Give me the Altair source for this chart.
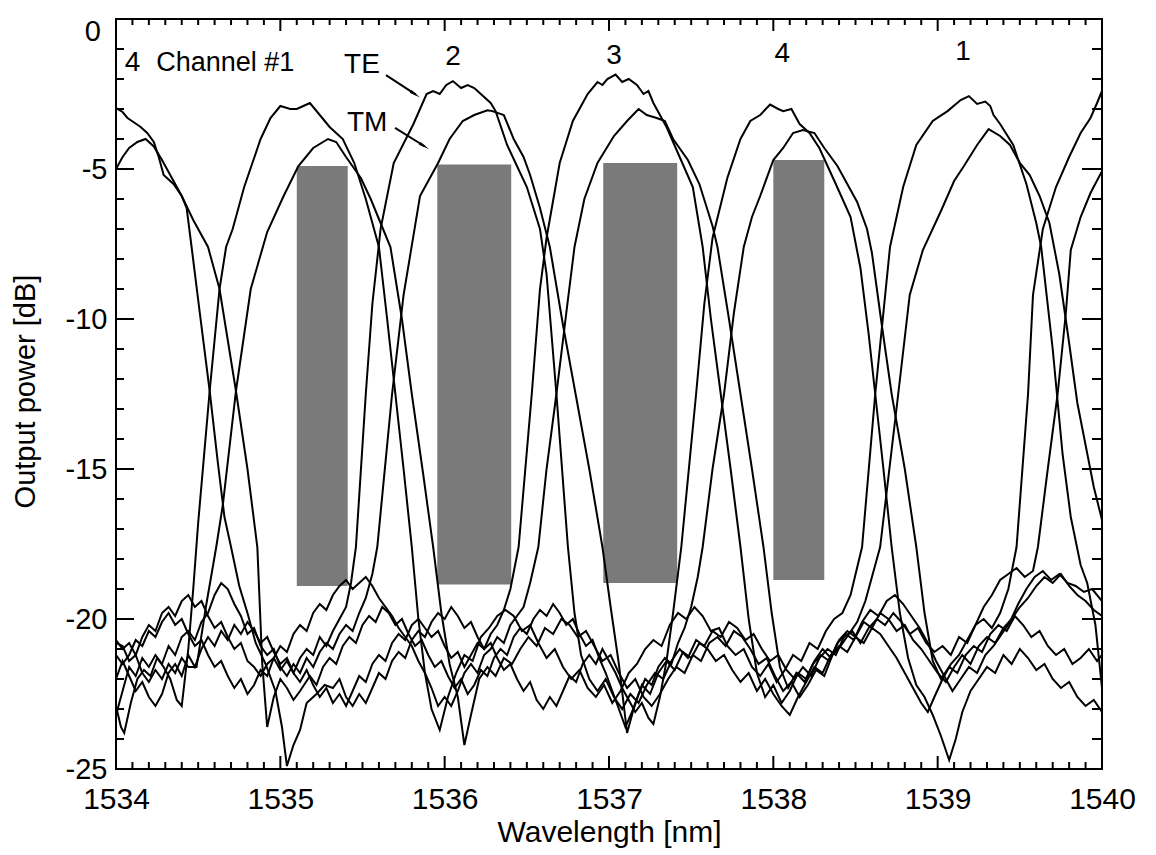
import altair as alt
import pandas as pd

# ---------------- data (wavelength nm, output power dB) ----------------
te1 = [(1534.00,-22.9),(1534.03,-23.6),(1534.05,-23.8),(1534.09,-22.8),(1534.13,-22.0),(1534.17,-21.7),(1534.21,-21.9),(1534.25,-21.3),(1534.29,-21.6),(1534.33,-22.0),(1534.37,-22.7),(1534.40,-22.9),(1534.44,-21.0),(1534.47,-19.0),(1534.50,-16.8),(1534.57,-12.4),(1534.63,-9.0),(1534.67,-7.6),(1534.71,-7.0),(1534.78,-5.6),(1534.83,-4.8),(1534.88,-4.0),(1534.94,-3.3),(1535.00,-2.9),(1535.06,-3.0),(1535.10,-3.0),(1535.14,-2.9),(1535.18,-2.8),(1535.24,-3.2),(1535.30,-3.6),(1535.38,-4.0),(1535.45,-4.8),(1535.52,-6.0),(1535.60,-7.6),(1535.65,-10.0),(1535.70,-12.5),(1535.75,-15.0),(1535.80,-17.6),(1535.84,-20.0),(1535.88,-21.8),(1535.92,-23.0),(1535.97,-23.7),
       (1536.02,-22.6),(1536.07,-21.8),(1536.12,-21.2),(1536.17,-21.4),(1536.22,-20.6),(1536.27,-20.3),(1536.32,-19.9),(1536.37,-19.7),(1536.42,-19.9),(1536.47,-20.4),(1536.52,-20.2),(1536.57,-20.8),(1536.62,-21.3),(1536.67,-21.0),(1536.72,-21.6),(1536.77,-22.0),(1536.82,-21.7),(1536.87,-22.3),(1536.92,-22.6),(1536.97,-22.2),(1537.02,-22.8),(1537.07,-22.4),(1537.12,-21.8),(1537.17,-21.5),(1537.22,-21.0),(1537.27,-20.7),(1537.32,-20.9),(1537.37,-20.2),(1537.42,-19.8),(1537.47,-20.0),(1537.52,-19.6),(1537.57,-19.9),(1537.62,-20.4),(1537.67,-20.3),(1537.72,-20.9),(1537.77,-21.2),(1537.82,-21.0),(1537.87,-21.6),(1537.92,-21.9),(1537.97,-21.5),(1538.02,-22.1),(1538.07,-21.7),(1538.12,-21.2),(1538.17,-21.4),(1538.22,-20.8),(1538.27,-21.0),(1538.32,-20.4),(1538.37,-20.0),(1538.42,-19.8),(1538.47,-19.2),
       (1538.54,-17.6),(1538.62,-12.5),(1538.71,-7.6),(1538.79,-5.6),(1538.87,-4.2),(1538.97,-3.4),(1539.06,-3.07),(1539.14,-2.7),(1539.19,-2.57),(1539.24,-2.83),(1539.29,-2.75),(1539.32,-2.9),(1539.34,-3.2),(1539.38,-3.5),(1539.46,-4.2),(1539.54,-5.5),(1539.60,-6.8),(1539.63,-7.6),(1539.70,-11.0),(1539.76,-14.5),(1539.81,-16.6),(1539.87,-18.2),(1539.91,-18.8),(1539.96,-20.2),(1540.00,-22.3)]

tm1 = [(1534.00,-20.8),(1534.04,-20.9),(1534.08,-21.4),(1534.12,-21.2),(1534.16,-21.8),(1534.20,-22.1),(1534.24,-21.7),(1534.28,-22.0),(1534.32,-21.5),(1534.36,-21.8),(1534.40,-21.3),(1534.44,-21.6),(1534.49,-21.6),(1534.55,-19.5),(1534.61,-17.6),(1534.65,-16.2),(1534.73,-12.4),(1534.82,-9.0),(1534.92,-7.1),(1535.02,-5.9),(1535.11,-4.9),(1535.20,-4.3),(1535.29,-4.0),(1535.34,-4.1),(1535.40,-4.6),(1535.49,-5.3),(1535.55,-6.0),(1535.61,-6.8),(1535.67,-7.6),(1535.74,-10.0),(1535.80,-12.5),(1535.87,-15.2),(1535.93,-17.6),(1535.98,-19.8),(1536.03,-21.5),(1536.08,-22.6),(1536.12,-24.2),(1536.16,-23.2),(1536.21,-22.0),(1536.26,-21.6),(1536.31,-21.9),(1536.36,-21.3),(1536.41,-21.5),(1536.46,-21.0),(1536.51,-20.6),(1536.56,-20.9),(1536.61,-20.3),(1536.66,-20.5),(1536.71,-20.0),(1536.76,-20.2),(1536.81,-20.6),(1536.86,-20.4),(1536.91,-20.9),(1536.96,-21.4),(1537.01,-21.2),(1537.06,-21.8),(1537.11,-22.3),(1537.16,-22.0),(1537.21,-22.6),(1537.26,-22.9),(1537.31,-22.5),(1537.36,-22.0),(1537.41,-21.6),(1537.46,-21.8),(1537.51,-21.2),(1537.56,-21.4),(1537.61,-20.8),(1537.66,-20.6),(1537.71,-20.9),(1537.76,-20.4),(1537.81,-20.6),(1537.86,-21.0),(1537.91,-21.5),(1537.96,-21.3),(1538.01,-21.9),(1538.06,-22.4),(1538.11,-22.1),(1538.16,-22.6),(1538.21,-22.2),(1538.26,-21.7),(1538.31,-21.9),(1538.36,-21.2),(1538.41,-20.9),(1538.46,-20.5),(1538.51,-20.1),(1538.56,-19.4),(1538.60,-18.6),(1538.65,-17.6),(1538.76,-12.5),(1538.83,-9.2),(1538.91,-7.7),(1539.02,-6.4),(1539.10,-5.4),(1539.16,-4.9),(1539.24,-4.2),(1539.31,-3.67),(1539.38,-3.9),(1539.44,-4.2),(1539.50,-4.8),(1539.56,-5.2),(1539.62,-5.9),(1539.68,-6.8),(1539.74,-8.5),(1539.80,-10.8),(1539.85,-12.8),(1539.90,-14.2),(1539.95,-15.6),(1540.00,-16.7)]

te2 = [(1534.00,-20.7),(1534.04,-21.0),(1534.08,-20.8),(1534.12,-21.2),(1534.16,-20.6),(1534.20,-20.2),(1534.24,-20.4),(1534.28,-19.8),(1534.32,-19.6),(1534.36,-19.9),(1534.40,-19.4),(1534.44,-19.2),(1534.48,-19.6),(1534.52,-19.4),(1534.56,-19.9),(1534.60,-20.3),(1534.64,-20.1),(1534.68,-20.6),(1534.72,-21.0),(1534.76,-20.8),(1534.80,-21.4),(1534.84,-21.6),(1534.88,-21.9),(1534.92,-21.5),(1534.96,-21.3),(1535.00,-21.7),(1535.04,-21.4),(1535.08,-21.8),(1535.12,-21.3),(1535.16,-21.0),(1535.20,-21.2),(1535.24,-20.6),(1535.28,-20.9),(1535.32,-20.4),(1535.36,-20.0),(1535.40,-19.6),(1535.43,-18.8),(1535.46,-17.6),(1535.52,-12.5),(1535.56,-9.5),(1535.61,-7.0),(1535.69,-4.8),(1535.81,-3.5),(1535.89,-2.5),(1535.93,-2.4),(1535.97,-2.5),(1536.01,-2.2),(1536.05,-2.07),(1536.10,-2.3),(1536.14,-2.2),(1536.18,-2.3),(1536.22,-2.5),(1536.28,-2.8),(1536.31,-3.07),(1536.38,-4.2),(1536.50,-5.6),(1536.58,-7.0),(1536.62,-8.5),(1536.68,-12.5),(1536.75,-17.6),(1536.79,-19.8),(1536.83,-21.2),(1536.88,-22.0),(1536.93,-22.4),(1536.98,-22.0),(1537.03,-22.6),(1537.08,-23.0),(1537.13,-22.5),(1537.18,-22.8),(1537.23,-22.2),(1537.28,-21.8),(1537.33,-22.0),(1537.38,-21.4),(1537.43,-21.0),(1537.48,-21.3),(1537.53,-20.7),(1537.58,-20.9),(1537.63,-20.4),(1537.68,-20.6),(1537.73,-20.1),(1537.78,-20.3),(1537.83,-20.7),(1537.88,-20.5),(1537.93,-21.0),(1537.98,-21.4),(1538.03,-21.2),(1538.08,-21.7),(1538.13,-22.0),(1538.18,-21.6),(1538.23,-21.9),(1538.28,-21.3),(1538.33,-21.0),(1538.38,-21.2),(1538.43,-20.6),(1538.48,-20.4),(1538.53,-20.8),(1538.58,-20.3),(1538.63,-20.0),(1538.68,-20.2),(1538.73,-19.8),(1538.78,-20.1),(1538.83,-20.5),(1538.88,-20.3),(1538.93,-20.8),(1538.98,-21.1),(1539.03,-20.9),(1539.08,-21.2),(1539.13,-20.6),(1539.18,-20.8),(1539.23,-20.2),(1539.28,-20.0),(1539.33,-20.3),(1539.38,-19.8),(1539.43,-19.0),(1539.48,-17.6),(1539.55,-12.5),(1539.58,-9.2),(1539.64,-7.0),(1539.72,-5.6),(1539.80,-4.6),(1539.87,-3.8),(1539.93,-3.3),(1539.97,-2.8),(1540.00,-2.4)]

tm2 = [(1534.00,-23.2),(1534.04,-22.4),(1534.08,-21.6),(1534.12,-21.9),(1534.16,-21.3),(1534.20,-21.6),(1534.24,-21.2),(1534.28,-21.5),(1534.32,-20.9),(1534.36,-21.2),(1534.40,-20.6),(1534.44,-20.4),(1534.48,-20.7),(1534.52,-20.1),(1534.56,-19.8),(1534.60,-19.2),(1534.64,-18.8),(1534.68,-19.0),(1534.72,-19.5),(1534.76,-19.9),(1534.80,-20.5),(1534.84,-20.3),(1534.88,-20.9),(1534.92,-21.2),(1534.96,-21.0),(1535.00,-21.6),(1535.04,-21.9),(1535.08,-21.5),(1535.12,-21.8),(1535.16,-21.3),(1535.20,-21.6),(1535.24,-21.1),(1535.28,-20.8),(1535.32,-21.0),(1535.36,-20.5),(1535.40,-20.2),(1535.44,-20.4),(1535.48,-19.8),(1535.52,-19.3),(1535.56,-18.5),(1535.59,-17.6),(1535.68,-12.5),(1535.75,-9.2),(1535.85,-5.9),(1535.96,-4.8),(1536.03,-4.0),(1536.11,-3.4),(1536.18,-3.2),(1536.26,-3.04),(1536.29,-3.07),(1536.36,-3.2),(1536.42,-4.0),(1536.48,-4.6),(1536.52,-5.2),(1536.58,-6.3),(1536.64,-7.6),(1536.72,-10.2),(1536.80,-12.6),(1536.88,-15.0),(1536.96,-17.6),(1537.01,-19.6),(1537.06,-21.5),(1537.11,-23.8),(1537.15,-23.0),(1537.20,-22.2),(1537.25,-22.5),(1537.30,-21.8),(1537.35,-21.4),(1537.40,-21.7),(1537.45,-21.1),(1537.50,-21.3),(1537.55,-20.8),(1537.60,-21.0),(1537.65,-21.4),(1537.70,-21.2),(1537.75,-21.7),(1537.80,-22.1),(1537.85,-21.8),(1537.90,-22.4),(1537.95,-22.0),(1538.00,-22.5),(1538.05,-22.9),(1538.10,-23.2),(1538.15,-22.6),(1538.20,-22.1),(1538.25,-21.6),(1538.30,-21.8),(1538.35,-21.2),(1538.40,-20.9),(1538.45,-21.1),(1538.50,-20.6),(1538.55,-20.8),(1538.60,-20.3),(1538.65,-20.5),(1538.70,-20.9),(1538.75,-21.3),(1538.80,-21.8),(1538.85,-22.3),(1538.90,-22.8),(1538.94,-23.1),(1538.98,-22.6),(1539.03,-22.0),(1539.08,-21.5),(1539.13,-21.2),(1539.18,-20.7),(1539.23,-20.2),(1539.28,-19.6),(1539.33,-19.2),(1539.38,-18.7),(1539.43,-18.5),(1539.48,-18.3),(1539.53,-18.6),(1539.58,-18.4),(1539.61,-17.6),(1539.67,-15.0),(1539.73,-12.5),(1539.78,-9.8),(1539.81,-7.7),(1539.87,-6.6),(1539.93,-5.8),(1540.00,-5.07)]

te3 = [(1534.00,-22.0),(1534.04,-21.4),(1534.08,-21.9),(1534.12,-22.4),(1534.16,-22.1),(1534.20,-22.6),(1534.24,-22.9),(1534.28,-22.5),(1534.32,-21.8),(1534.36,-21.5),(1534.40,-21.9),(1534.44,-21.2),(1534.48,-21.6),(1534.52,-21.0),(1534.56,-20.6),(1534.60,-20.9),(1534.64,-20.4),(1534.68,-20.7),(1534.72,-20.2),(1534.76,-20.5),(1534.80,-20.1),(1534.84,-20.4),(1534.88,-20.8),(1534.92,-20.6),(1534.96,-21.1),(1535.00,-21.5),(1535.04,-21.3),(1535.08,-21.8),(1535.12,-22.1),(1535.16,-21.7),(1535.20,-22.2),(1535.24,-22.6),(1535.28,-22.3),(1535.32,-22.8),(1535.36,-22.5),(1535.40,-22.9),(1535.44,-22.4),(1535.48,-21.9),(1535.52,-22.1),(1535.56,-21.5),(1535.60,-21.2),(1535.64,-21.4),(1535.68,-20.8),(1535.72,-20.5),(1535.76,-20.7),(1535.80,-20.2),(1535.84,-20.0),(1535.88,-20.3),(1535.92,-20.6),(1535.96,-20.4),(1536.00,-20.9),(1536.04,-21.3),(1536.08,-21.1),(1536.12,-21.6),(1536.16,-21.2),(1536.20,-20.8),(1536.24,-21.0),(1536.28,-20.5),(1536.32,-20.2),(1536.36,-19.7),(1536.40,-19.0),(1536.45,-17.6),(1536.53,-12.5),(1536.58,-9.0),(1536.62,-7.3),(1536.70,-4.8),(1536.78,-3.4),(1536.87,-2.5),(1536.93,-2.1),(1536.96,-2.2),(1536.99,-2.0),(1537.04,-1.85),(1537.08,-2.1),(1537.12,-2.0),(1537.17,-2.2),(1537.21,-2.5),(1537.24,-2.4),(1537.27,-2.8),(1537.35,-3.6),(1537.43,-4.6),(1537.51,-5.6),(1537.57,-7.6),(1537.62,-10.0),(1537.68,-12.5),(1537.74,-15.0),(1537.80,-17.6),(1537.85,-20.0),(1537.90,-21.8),(1537.95,-22.6),(1538.00,-22.2),(1538.05,-22.8),(1538.10,-22.4),(1538.15,-21.8),(1538.20,-22.0),(1538.25,-21.4),(1538.30,-21.0),(1538.35,-21.3),(1538.40,-20.7),(1538.45,-20.4),(1538.50,-20.6),(1538.55,-20.1),(1538.60,-20.3),(1538.65,-19.8),(1538.70,-20.0),(1538.75,-20.4),(1538.80,-20.2),(1538.85,-20.7),(1538.90,-21.0),(1538.95,-21.4),(1539.00,-21.8),(1539.05,-22.1),(1539.10,-21.6),(1539.15,-21.2),(1539.20,-21.5),(1539.25,-20.9),(1539.30,-20.6),(1539.35,-20.8),(1539.40,-20.3),(1539.45,-20.0),(1539.50,-19.6),(1539.55,-19.3),(1539.60,-18.9),(1539.65,-18.6),(1539.70,-18.8),(1539.75,-18.5),(1539.80,-18.9),(1539.85,-19.2),(1539.90,-19.4),(1539.95,-19.7),(1540.00,-19.9)]

tm3 = [(1534.00,-21.2),(1534.04,-21.5),(1534.08,-21.2),(1534.12,-20.7),(1534.16,-20.9),(1534.20,-20.4),(1534.24,-20.6),(1534.28,-20.1),(1534.32,-19.8),(1534.36,-20.2),(1534.40,-20.0),(1534.44,-20.5),(1534.48,-20.9),(1534.52,-20.7),(1534.56,-21.2),(1534.60,-21.6),(1534.64,-21.4),(1534.68,-21.9),(1534.72,-22.3),(1534.76,-22.0),(1534.80,-22.5),(1534.84,-22.2),(1534.88,-21.7),(1534.92,-21.9),(1534.96,-21.3),(1535.00,-20.9),(1535.04,-21.1),(1535.08,-20.5),(1535.12,-20.2),(1535.16,-20.4),(1535.20,-19.8),(1535.24,-19.5),(1535.28,-19.7),(1535.32,-19.2),(1535.36,-18.9),(1535.40,-18.7),(1535.44,-19.0),(1535.48,-18.8),(1535.52,-18.6),(1535.56,-18.9),(1535.60,-19.3),(1535.64,-19.6),(1535.68,-19.9),(1535.72,-20.3),(1535.76,-20.6),(1535.80,-20.9),(1535.84,-21.4),(1535.88,-21.8),(1535.92,-22.3),(1535.96,-22.9),(1536.00,-22.6),(1536.04,-22.9),(1536.08,-22.4),(1536.12,-21.8),(1536.16,-21.5),(1536.20,-21.8),(1536.24,-21.2),(1536.28,-21.0),(1536.32,-20.6),(1536.36,-20.8),(1536.40,-20.2),(1536.44,-19.9),(1536.48,-19.6),(1536.52,-18.8),(1536.57,-17.6),(1536.62,-15.0),(1536.68,-12.5),(1536.74,-9.8),(1536.79,-7.6),(1536.85,-6.0),(1536.93,-4.8),(1537.03,-3.9),(1537.11,-3.4),(1537.18,-3.0),(1537.23,-3.2),(1537.29,-3.3),(1537.34,-3.4),(1537.39,-4.0),(1537.48,-4.7),(1537.55,-5.5),(1537.63,-6.9),(1537.66,-7.6),(1537.73,-10.0),(1537.80,-12.5),(1537.87,-15.0),(1537.94,-17.6),(1537.99,-19.8),(1538.04,-21.6),(1538.09,-22.3),(1538.14,-21.8),(1538.19,-22.1),(1538.24,-21.5),(1538.29,-21.2),(1538.34,-21.4),(1538.39,-20.8),(1538.44,-20.5),(1538.49,-20.7),(1538.54,-20.1),(1538.59,-19.7),(1538.64,-19.9),(1538.69,-19.4),(1538.74,-19.2),(1538.79,-19.5),(1538.84,-19.9),(1538.89,-20.3),(1538.94,-20.8),(1538.99,-21.4),(1539.04,-21.9),(1539.09,-22.4),(1539.14,-22.0),(1539.19,-21.6),(1539.24,-21.8),(1539.29,-21.2),(1539.34,-20.9),(1539.39,-20.5),(1539.44,-20.1),(1539.49,-19.5),(1539.54,-19.0),(1539.59,-18.6),(1539.64,-18.4),(1539.69,-18.7),(1539.74,-18.5),(1539.79,-18.8),(1539.84,-18.9),(1539.89,-19.1),(1539.94,-19.0),(1540.00,-19.4)]

te4 = [(1534.00,-2.97),(1534.04,-3.1),(1534.07,-3.3),(1534.11,-3.45),(1534.15,-3.6),(1534.19,-3.8),(1534.23,-4.1),(1534.26,-4.6),(1534.29,-5.2),(1534.35,-5.5),(1534.40,-5.9),(1534.43,-6.3),(1534.46,-7.6),(1534.51,-9.8),(1534.57,-12.4),(1534.62,-14.8),(1534.66,-16.6),(1534.70,-17.6),(1534.75,-18.9),(1534.80,-19.8),(1534.85,-20.8),(1534.91,-21.5),(1534.97,-22.4),(1535.01,-23.6),(1535.04,-24.9),(1535.08,-24.2),(1535.12,-23.7),(1535.16,-22.8),(1535.22,-22.5),(1535.27,-22.2),(1535.32,-22.3),(1535.36,-22.0),(1535.40,-22.6),(1535.44,-22.9),(1535.48,-22.5),(1535.52,-22.8),(1535.56,-22.3),(1535.60,-21.8),(1535.64,-22.0),(1535.68,-21.4),(1535.72,-21.1),(1535.76,-21.3),(1535.80,-20.7),(1535.84,-20.4),(1535.88,-20.6),(1535.92,-20.1),(1535.96,-19.8),(1536.00,-20.0),(1536.04,-19.6),(1536.08,-19.9),(1536.12,-20.3),(1536.16,-20.1),(1536.20,-20.6),(1536.24,-21.0),(1536.28,-20.8),(1536.32,-21.3),(1536.36,-21.7),(1536.40,-21.5),(1536.44,-22.0),(1536.48,-22.4),(1536.52,-22.1),(1536.56,-22.7),(1536.60,-23.0),(1536.64,-22.6),(1536.68,-22.9),(1536.72,-22.4),(1536.76,-21.9),(1536.80,-22.1),(1536.84,-21.5),(1536.88,-21.2),(1536.92,-21.5),(1536.96,-21.0),(1537.00,-21.4),(1537.04,-21.8),(1537.08,-22.3),(1537.12,-22.7),(1537.16,-23.1),(1537.20,-22.8),(1537.24,-23.3),(1537.27,-23.5),(1537.31,-22.6),(1537.35,-21.4),(1537.39,-19.8),(1537.44,-17.6),(1537.53,-12.5),(1537.58,-9.5),(1537.63,-7.3),(1537.72,-5.3),(1537.80,-4.0),(1537.86,-3.4),(1537.92,-3.2),(1537.98,-2.85),(1538.03,-3.0),(1538.06,-3.07),(1538.11,-3.0),(1538.16,-3.5),(1538.22,-3.8),(1538.28,-4.3),(1538.38,-5.5),(1538.47,-6.6),(1538.53,-8.3),(1538.58,-10.5),(1538.62,-12.5),(1538.67,-15.0),(1538.72,-17.6),(1538.77,-19.8),(1538.82,-21.3),(1538.87,-22.2),(1538.92,-22.6),(1538.97,-23.2),(1539.02,-23.9),(1539.07,-24.7),(1539.11,-24.0),(1539.15,-23.1),(1539.20,-22.4),(1539.25,-22.0),(1539.30,-21.6),(1539.35,-21.8),(1539.40,-21.2),(1539.45,-21.5),(1539.50,-21.0),(1539.55,-21.3),(1539.60,-21.7),(1539.65,-21.5),(1539.70,-22.0),(1539.75,-22.3),(1539.80,-22.1),(1539.85,-22.6),(1539.90,-22.9),(1539.95,-22.7),(1540.00,-23.1)]

tm4 = [(1534.00,-5.0),(1534.04,-4.6),(1534.08,-4.3),(1534.13,-4.1),(1534.18,-4.0),(1534.23,-4.25),(1534.28,-4.7),(1534.34,-5.3),(1534.40,-5.9),(1534.47,-6.7),(1534.56,-7.6),(1534.63,-9.0),(1534.73,-12.4),(1534.80,-15.0),(1534.86,-17.6),(1534.89,-21.5),(1534.92,-23.6),(1534.96,-22.6),(1535.00,-22.0),(1535.04,-22.3),(1535.08,-22.7),(1535.12,-22.4),(1535.18,-21.9),(1535.22,-22.2),(1535.26,-21.6),(1535.30,-21.3),(1535.34,-21.5),(1535.38,-20.9),(1535.42,-20.6),(1535.46,-20.8),(1535.50,-20.2),(1535.54,-19.9),(1535.58,-20.1),(1535.62,-19.6),(1535.66,-19.8),(1535.70,-20.2),(1535.74,-20.0),(1535.78,-20.5),(1535.82,-20.9),(1535.86,-20.7),(1535.90,-21.2),(1535.94,-21.6),(1535.98,-21.4),(1536.02,-21.9),(1536.06,-22.3),(1536.10,-22.0),(1536.14,-22.5),(1536.18,-22.2),(1536.22,-21.7),(1536.26,-21.9),(1536.30,-21.3),(1536.34,-21.0),(1536.38,-21.2),(1536.42,-20.6),(1536.46,-20.3),(1536.50,-20.5),(1536.54,-20.0),(1536.58,-19.7),(1536.62,-19.9),(1536.66,-19.5),(1536.70,-19.8),(1536.74,-20.2),(1536.78,-20.0),(1536.82,-20.5),(1536.86,-20.9),(1536.90,-20.7),(1536.94,-21.3),(1536.98,-21.8),(1537.02,-22.4),(1537.06,-23.0),(1537.10,-23.6),(1537.14,-23.1),(1537.18,-22.5),(1537.22,-22.0),(1537.26,-22.2),(1537.30,-21.6),(1537.34,-21.3),(1537.38,-21.5),(1537.42,-20.8),(1537.46,-20.3),(1537.50,-19.6),(1537.54,-18.6),(1537.57,-17.6),(1537.63,-15.0),(1537.70,-12.5),(1537.76,-9.8),(1537.82,-7.6),(1537.87,-6.6),(1537.92,-5.9),(1538.00,-4.7),(1538.06,-4.3),(1538.12,-3.8),(1538.18,-3.7),(1538.25,-3.8),(1538.31,-4.3),(1538.39,-4.9),(1538.51,-6.1),(1538.57,-7.0),(1538.60,-7.8),(1538.66,-10.2),(1538.72,-12.5),(1538.80,-15.0),(1538.87,-17.6),(1538.92,-19.8),(1538.97,-21.4),(1539.02,-22.0),(1539.07,-21.6),(1539.12,-21.8),(1539.17,-21.2),(1539.22,-20.9),(1539.27,-21.1),(1539.32,-20.5),(1539.37,-20.2),(1539.42,-20.4),(1539.47,-19.9),(1539.52,-20.2),(1539.57,-20.6),(1539.62,-20.4),(1539.67,-20.9),(1539.72,-21.2),(1539.77,-21.0),(1539.82,-21.5),(1539.87,-21.3),(1539.92,-21.0),(1539.97,-21.4),(1540.00,-21.2)]

# shaded passband windows
rect_x1 = [1535.10, 1535.955, 1536.965, 1538.00]
rect_x2 = [1535.41, 1536.405, 1537.415, 1538.31]
rect_top = [-4.9, -4.85, -4.8, -4.7]
rect_bot = [-18.9, -18.85, -18.8, -18.7]

# annotations
ann_text = ["4", "TE", "TM", "2", "3", "4", "1"]
ann_x = [1534.10, 1535.497, 1535.528, 1536.051, 1537.031, 1538.054, 1539.155]
ann_y = [-1.47, -1.53, -3.47, -1.27, -1.23, -1.17, -1.10]
chan_text = ["Channel #1"]
chan_x = [1534.245]
chan_y = [-1.47]

arrow_id = ["TE", "TE", "TM", "TM"]
arrow_x = [1535.643, 1535.825, 1535.698, 1535.880]
arrow_y = [-1.87, -2.52, -3.63, -4.25]
head_x = [1535.812, 1535.867]
head_y = [-2.48, -4.21]
head_angle = [123, 122]

# axis ticks and labels
x_major = [1534, 1535, 1536, 1537, 1538, 1539, 1540]
x_minor = [round(1534 + 0.1 * i, 1) for i in range(61) if i % 10]
y_major = [-25, -20, -15, -10, -5, 0]
y_labelled = [-25, -20, -15, -10, -5]
y_minor = [v for v in range(-24, 0) if v % 5]
zero_label = ["0"]
zero_label_y = [-0.42]

# ---------------- chart ----------------
FONT = "Liberation Sans"
W, H = 986, 750

curves = {"TE1": te1, "TM1": tm1, "TE2": te2, "TM2": tm2,
          "TE3": te3, "TM3": tm3, "TE4": te4, "TM4": tm4}
rows = []
for name, pts in curves.items():
    for k, (x, y) in enumerate(pts):
        rows.append({"curve": name, "k": k, "wl": x, "db": y})
df = pd.DataFrame(rows)

xs = alt.Scale(domain=[1534, 1540], nice=False, zero=False)
ys = alt.Scale(domain=[-25, 0], nice=False, zero=False)

xaxis = alt.Axis(values=x_major, format="d", title="Wavelength [nm]", grid=False,
                 ticks=False, domain=False, labelFont=FONT, labelFontSize=30,
                 labelColor="black", labelPadding=15, labelOverlap=False, labelFlush=False,
                 titleFont=FONT, titleFontSize=30, titleFontWeight="normal",
                 titleColor="black", titleY=72, titleBaseline="alphabetic")
yaxis = alt.Axis(values=y_labelled, labelExpr="'' + datum.value", title="Output power [dB]",
                 grid=False, ticks=False, domain=False, labelFont=FONT, labelFontSize=29,
                 labelColor="black", labelPadding=9, labelOverlap=False, labelFlush=False,
                 titleFont=FONT, titleFontSize=29, titleFontWeight="normal",
                 titleColor="black", titleAngle=-90, titleX=-91, titleY=372,
                 titleBaseline="middle", titleAlign="center")

X = lambda f: alt.X(f, type="quantitative", scale=xs, axis=xaxis)
Y = lambda f: alt.Y(f, type="quantitative", scale=ys, axis=yaxis)

rects = alt.Chart(pd.DataFrame({"x1": rect_x1, "x2": rect_x2, "t": rect_top, "b": rect_bot})).mark_rect(
    color="#7a7a7a").encode(x=X("x1"), x2="x2", y=Y("t"), y2="b")

lines = alt.Chart(df).mark_line(color="black", strokeWidth=2, clip=True).encode(
    x=X("wl"), y=Y("db"), detail="curve:N", order="k:Q")

def vticks(vals, y0, y1):
    return alt.Chart(pd.DataFrame({"v": vals})).mark_rule(color="black", strokeWidth=2).encode(
        x=X("v"), y=alt.value(y0), y2=alt.value(y1))

def hticks(vals, x0, x1):
    return alt.Chart(pd.DataFrame({"v": vals})).mark_rule(color="black", strokeWidth=2).encode(
        y=Y("v"), x=alt.value(x0), x2=alt.value(x1))

ticks = [
    vticks(x_major, H, H - 13), vticks(x_minor, H, H - 7),
    vticks(x_major, 0, 12), vticks(x_minor, 0, 6),
    hticks(y_major, 0, 18), hticks(y_minor, 0, 8),
    hticks(y_major, W, W - 20), hticks(y_minor, W, W - 10),
]

zero = alt.Chart(pd.DataFrame({"y": zero_label_y, "t": zero_label})).mark_text(
    font=FONT, fontSize=29, color="black", align="right", baseline="middle").encode(
    x=alt.value(-15), y=Y("y"), text="t:N")

ann = alt.Chart(pd.DataFrame({"x": ann_x, "y": ann_y, "t": ann_text})).mark_text(
    font=FONT, fontSize=28, color="black", align="center", baseline="middle").encode(
    x=X("x"), y=Y("y"), text="t:N")
chan = alt.Chart(pd.DataFrame({"x": chan_x, "y": chan_y, "t": chan_text})).mark_text(
    font=FONT, fontSize=27, color="black", align="left", baseline="middle").encode(
    x=X("x"), y=Y("y"), text="t:N")

arrows = alt.Chart(pd.DataFrame({"id": arrow_id, "x": arrow_x, "y": arrow_y})).mark_line(
    color="black", strokeWidth=2).encode(x=X("x"), y=Y("y"), detail="id:N")
heads = alt.Chart(pd.DataFrame({"x": head_x, "y": head_y, "a": head_angle})).mark_point(
    shape="wedge", filled=True, color="black", size=170, opacity=1).encode(
    x=X("x"), y=Y("y"), angle=alt.Angle("a:Q", scale=None))

chart = alt.layer(rects, lines, *ticks, zero, ann, chan, arrows, heads).properties(
    width=W, height=H,
    autosize=alt.AutoSizeParams(type="none"),
    padding={"left": 108, "top": 11, "right": 46, "bottom": 84},
    background="white",
).configure_view(stroke="black", strokeWidth=2)

chart.save("out.html", embed_options={"renderer": "svg", "actions": False})
